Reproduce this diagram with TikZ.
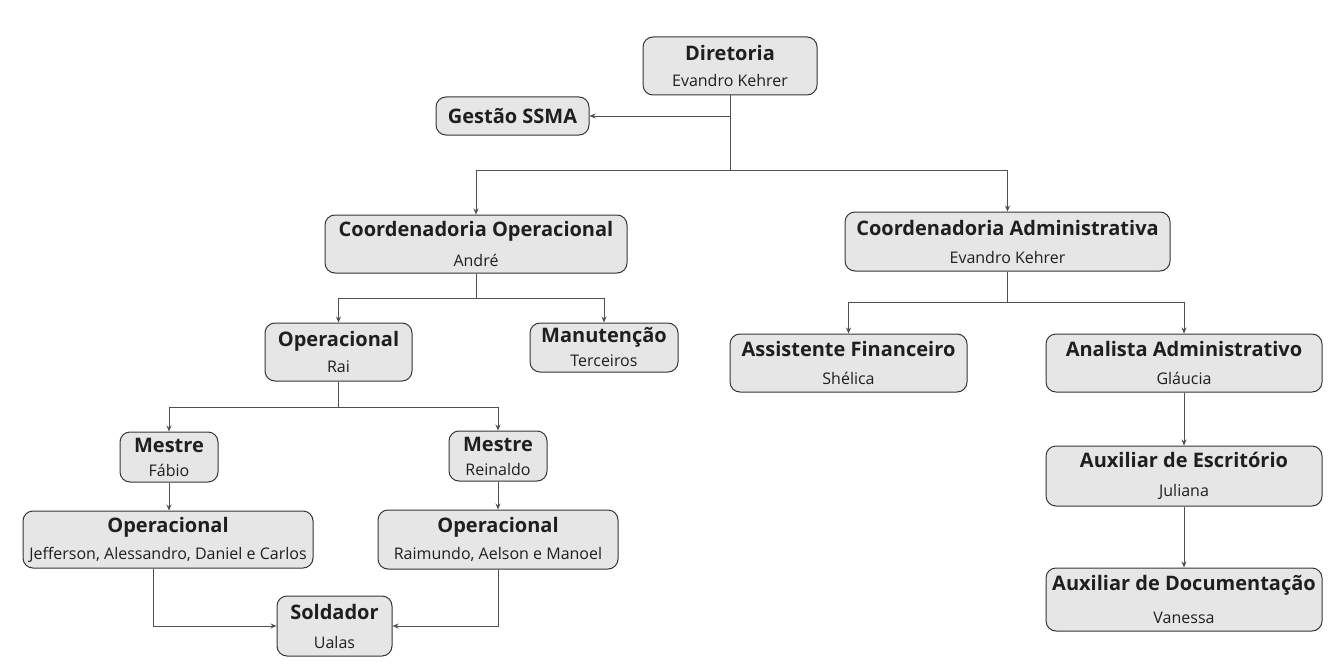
\documentclass[tikz,border=0pt]{standalone}
\usepackage{fontspec}
\setmainfont{Open Sans}
\usetikzlibrary{arrows.meta}
\newcommand\boxtitle[1]{{\fontsize{20}{22}\selectfont\bfseries #1}}
\newcommand\boxname[1]{{\fontsize{16}{18}\selectfont #1}}
\definecolor{boxfill}{HTML}{E6E6E6}
\definecolor{boxline}{HTML}{363636}
\definecolor{conn}{HTML}{505050}
\tikzset{
  orgbox/.style={draw=boxline, fill=boxfill, line width=1pt, rounded corners=10pt, align=center, inner sep=0pt, text=black!88, font=\fontsize{16}{26}\selectfont},
  arr/.style={draw=conn, line width=0.9pt, -{Stealth[length=6pt,width=5pt]}},
  plain/.style={draw=conn, line width=0.9pt}
}
\begin{document}
\begin{tikzpicture}[x=1pt,y=-1pt]
\useasboundingbox[fill=white] (0,0) rectangle (1337,666);
\node[orgbox, minimum width=174, minimum height=58] (dir) at (730,66) {\boxtitle{Diretoria}\\[0pt]\boxname{Evandro Kehrer}};
\node[orgbox, minimum width=153, minimum height=38] (ges) at (512.5,116) {\boxtitle{Gestão SSMA}};
\node[orgbox, minimum width=302, minimum height=58] (cop) at (476,244) {\boxtitle{Coordenadoria Operacional}\\[4pt]\boxname{André}};
\node[orgbox, minimum width=325, minimum height=59] (cad) at (1007.5,241.5) {\boxtitle{Coordenadoria Administrativa}\\[2pt]\boxname{Evandro Kehrer}};
\node[orgbox, minimum width=147, minimum height=58] (orai) at (338.5,352) {\boxtitle{Operacional}\\[0pt]\boxname{Rai}};
\node[orgbox, minimum width=148, minimum height=49] (man) at (604,347.5) {\boxtitle{Manutenção}\\[-2pt]\boxname{Terceiros}};
\node[orgbox, minimum width=237, minimum height=58] (afin) at (848.5,363) {\boxtitle{Assistente Financeiro}\\[2pt]\boxname{Shélica}};
\node[orgbox, minimum width=276, minimum height=58] (aadm) at (1184,363) {\boxtitle{Analista Administrativo}\\[2pt]\boxname{Gláucia}};
\node[orgbox, minimum width=276, minimum height=60] (aesc) at (1184,476) {\boxtitle{Auxiliar de Escritório}\\[3pt]\boxname{Juliana}};
\node[orgbox, minimum width=276, minimum height=63] (adoc) at (1184,599.5) {\boxtitle{Auxiliar de Documentação}\\[7pt]\boxname{Vanessa}};
\node[orgbox, minimum width=98, minimum height=50] (mfab) at (169,457) {\boxtitle{Mestre}\\[-2pt]\boxname{Fábio}};
\node[orgbox, minimum width=98, minimum height=50] (mrei) at (498,456) {\boxtitle{Mestre}\\[-2pt]\boxname{Reinaldo}};
\node[orgbox, minimum width=290, minimum height=57] (ojef) at (168,539.5) {\boxtitle{Operacional}\\[1pt]\boxname{Jefferson, Alessandro, Daniel e Carlos}};
\node[orgbox, minimum width=240, minimum height=59] (oram) at (498,539.5) {\boxtitle{Operacional}\\[1pt]\boxname{Raimundo, Aelson e Manoel}};
\node[orgbox, minimum width=115, minimum height=60] (sold) at (334.5,626) {\boxtitle{Soldador}\\[3pt]\boxname{Ualas}};
% connectors
\coordinate (j1) at (730,170);
\coordinate (j2) at (476,298);
\coordinate (j3) at (1007.5,302);
\coordinate (j4) at (338.5,407);
\draw[plain] (dir.south) -- (j1);
\draw[arr] (dir.south |- ges.east) -- (ges.east);
\draw[arr] (j1) -| (cop.north);
\draw[arr] (j1) -| (cad.north);
\draw[plain] (cop.south) -- (j2);
\draw[arr] (j2) -| (orai.north);
\draw[arr] (j2) -| (man.north);
\draw[plain] (cad.south) -- (j3);
\draw[arr] (j3) -| (afin.north);
\draw[arr] (j3) -| (aadm.north);
\draw[arr] (aadm.south) -- (aesc.north);
\draw[arr] (aesc.south) -- (adoc.north);
\draw[plain] (orai.south) -- (j4);
\draw[arr] (j4) -| (mfab.north);
\draw[arr] (j4) -| (mrei.north);
\draw[arr] (mfab.south) -- (mfab.south |- ojef.north);
\draw[arr] (mrei.south) -- (oram.north);
\draw[arr] ([xshift=-15pt]ojef.south) |- (sold.west);
\draw[arr] (oram.south) |- (sold.east);
\end{tikzpicture}
\end{document}
